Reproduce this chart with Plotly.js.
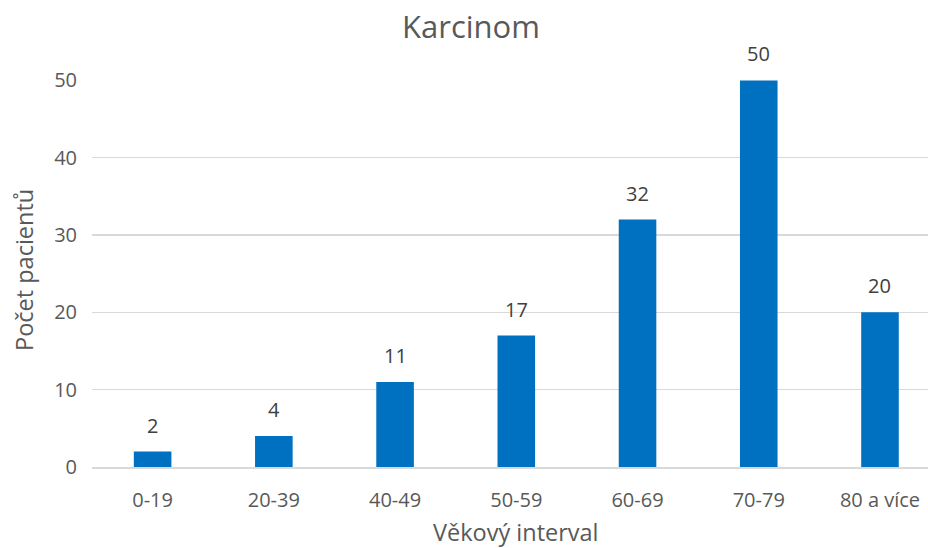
<!DOCTYPE html>
<html>
<head>
<meta charset="utf-8">
<script src="https://cdn.plot.ly/plotly-3.0.1.min.js"></script>
<style>html,body{margin:0;padding:0;background:#fff;}#chart{width:928px;height:548px;}</style>
</head>
<body>
<div id="chart"></div>
<script>
const categories = ["0-19", "20-39", "40-49", "50-59", "60-69", "70-79", "80 a více"];
const values = [2, 4, 11, 17, 32, 50, 20];
const yTicks = [0, 10, 20, 30, 40, 50];
const titleText = "Karcinom";
const xTitle = "Věkový interval";
const yTitle = "Počet pacientů";

const FONT = "Open Sans, Noto Sans, sans-serif";
const GREY = "#595959";

const labelAnnotations = categories.map((c, i) => ({
  x: c, y: values[i], xref: "x", yref: "y",
  text: String(values[i]), showarrow: false,
  yanchor: "bottom", yshift: 11,
  font: {family: FONT, size: 20, color: "#404040"}
}));

const layout = {
  width: 928, height: 548,
  margin: {l: 92, r: 0, t: 80, b: 81},
  paper_bgcolor: "#fff", plot_bgcolor: "#fff",
  showlegend: false,
  bargap: 0.69,
  xaxis: {
    type: "category",
    range: [-0.5, 6.396],
    showgrid: false,
    showline: true, linecolor: "#d9d9d9", linewidth: 1.5,
    ticks: "", ticklabelstandoff: 14,
    tickfont: {family: FONT, size: 20, color: GREY},
    fixedrange: true
  },
  yaxis: {
    range: [0, 50.05],
    tickvals: yTicks,
    showgrid: true, gridcolor: "#d9d9d9", gridwidth: 1.5,
    zeroline: false, showline: false,
    ticks: "", ticklabelstandoff: 14,
    tickfont: {family: FONT, size: 20, color: GREY}
  },
  annotations: [
    {text: titleText, xref: "paper", yref: "paper", x: (471 - 92) / 836, y: (548 - 81 - 26) / 387,
     xanchor: "center", yanchor: "middle", showarrow: false,
     font: {family: FONT, size: 31, color: GREY}},
    {text: xTitle, xref: "paper", yref: "paper", x: (516 - 92) / 836, y: -(532 - 467) / 387,
     xanchor: "center", yanchor: "middle", showarrow: false,
     font: {family: FONT, size: 23.5, color: GREY}},
    {text: yTitle, xref: "paper", yref: "paper", x: -(92 - 24) / 836, y: (467 - 270) / 387,
     xanchor: "center", yanchor: "middle", showarrow: false, textangle: -90,
     font: {family: FONT, size: 23.5, color: GREY}}
  ].concat(labelAnnotations)
};

Plotly.newPlot("chart", [{
  type: "bar", x: categories, y: values,
  marker: {color: "#0070C0"},
  hoverinfo: "none", cliponaxis: false
}], layout, {staticPlot: true});
</script>
</body>
</html>
